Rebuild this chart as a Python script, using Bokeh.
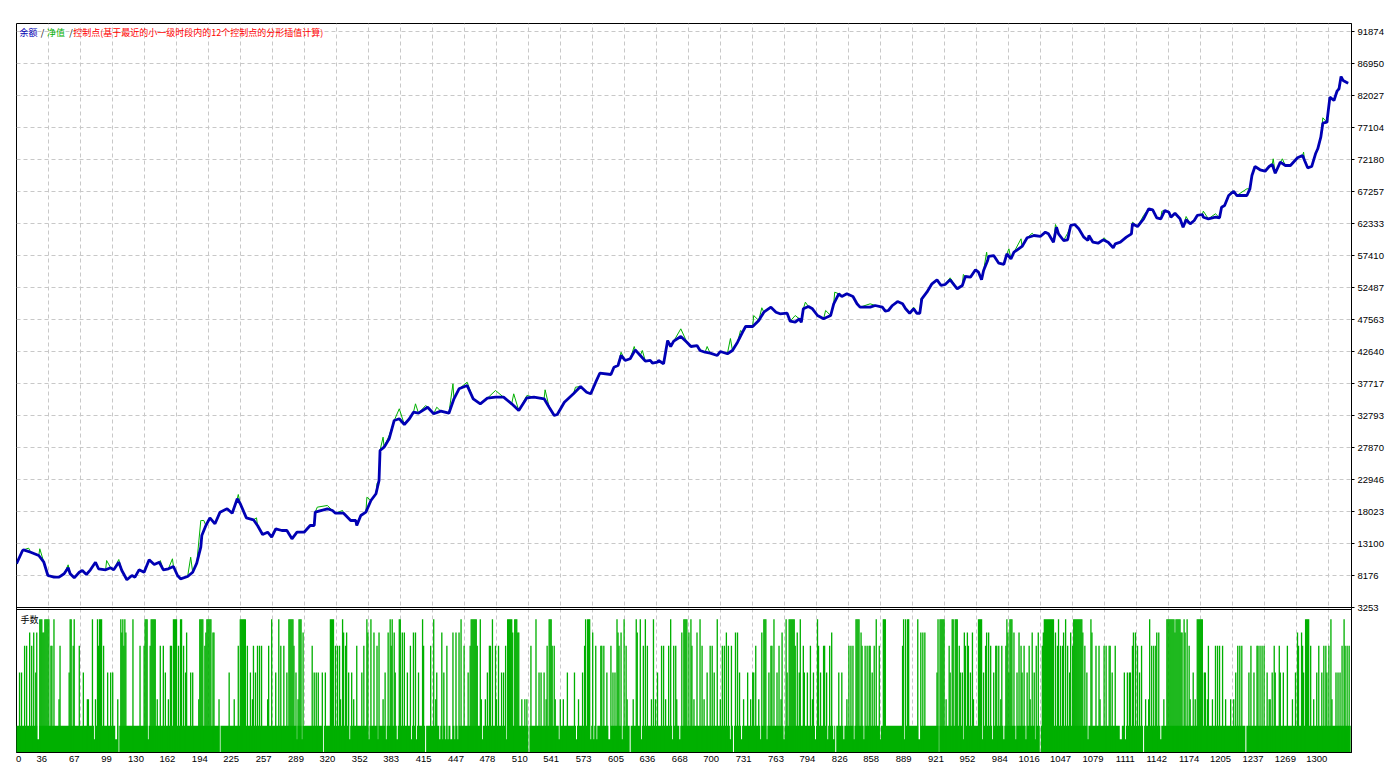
from bokeh.plotting import figure
from bokeh.models import Range1d, FixedTicker, LinearAxis, Label, Grid, Span
from bokeh.embed import file_html
from bokeh.resources import INLINE

# ---------------- data ----------------
# balance curve (trade number, balance)
BAL_N = [0, 6, 7, 14, 22, 27, 31, 37, 42, 47, 51, 53, 57, 62, 65, 69, 73, 78, 81, 88, 93, 96, 101, 104,
         109, 114, 117, 121, 126, 131, 136, 141, 145, 150, 155, 159, 162, 169, 174, 178, 182, 183, 187,
         191, 196, 201, 208, 213, 218, 221, 227, 234, 238, 243, 248, 252, 256, 262, 267, 272, 277, 284,
         290, 294, 295, 307, 312, 315, 323, 330, 335, 336, 340, 345, 350, 355, 358, 359, 363, 368, 373,
         378, 383, 388, 392, 397, 406, 412, 419, 427, 432, 437, 445, 451, 458, 465, 473, 481, 489, 496,
         504, 511, 521, 526, 531, 534, 541, 550, 557, 563, 567, 572, 576, 587, 590, 594, 597, 601, 606,
         611, 616, 621, 626, 628, 633, 634, 639, 643, 646, 649, 656, 662, 666, 672, 675, 680, 685, 692,
         695, 702, 707, 712, 717, 720, 727, 733, 738, 745, 750, 754, 761, 764, 769, 773, 775, 777, 782,
         786, 791, 797, 804, 807, 812, 815, 820, 826, 830, 833, 843, 848, 855, 858, 861, 865, 870, 875,
         878, 882, 886, 889, 892, 894, 899, 904, 909, 913, 917, 922, 929, 934, 937, 942, 947, 950, 953,
         955, 959, 960, 965, 970, 975, 978, 982, 985, 993, 998, 1005, 1011, 1016, 1019, 1024, 1027, 1029,
         1034, 1038, 1041, 1045, 1049, 1054, 1058, 1059, 1063, 1068, 1073, 1078, 1083, 1085, 1090, 1096,
         1101, 1102, 1107, 1113, 1118, 1122, 1126, 1130, 1134, 1138, 1140, 1144, 1149, 1152, 1155, 1159,
         1163, 1166, 1171, 1172, 1177, 1184, 1188, 1190, 1193, 1197, 1202, 1205, 1215, 1218, 1220, 1223,
         1228, 1233, 1237, 1240, 1243, 1248, 1253, 1258, 1265, 1270, 1272, 1275, 1279, 1283, 1285, 1288,
         1290, 1294, 1297, 1301, 1304, 1306, 1308, 1310, 1315]
BAL_V = [10000, 12020, 12130, 11760, 11250, 10220, 8180, 7920, 7920, 8440, 9360, 8440, 7820, 8680, 8950,
         8330, 9050, 10220, 9210, 9050, 9360, 9050, 10220, 8950, 7520, 8180, 7920, 9050, 8680, 10590,
         9870, 10220, 9050, 9210, 9560, 8180, 7670, 8020, 8680, 10070, 12530, 14330, 15870, 17050, 16130,
         17920, 18440, 17760, 19980, 19210, 17050, 16750, 15870, 14490, 14840, 14070, 15360, 15100, 15100,
         13820, 14840, 14840, 15870, 15870, 17920, 18440, 18180, 17760, 17760, 16640, 16640, 15870, 17410,
         17920, 19720, 20750, 22790, 27410, 27920, 29210, 32030, 32290, 31410, 32290, 33300, 33150, 34070,
         33060, 33460, 33150, 35360, 36900, 37410, 35360, 34590, 35460, 35610, 35610, 34590, 33560, 35520,
         35610, 35360, 34070, 32790, 32950, 34840, 36130, 37260, 36380, 36130, 37920, 39300, 39100, 40230,
         40490, 42030, 41260, 41520, 42900, 42030, 41150, 41260, 40840, 41000, 41260, 40750, 44330, 43410,
         44230, 44950, 44070, 43410, 43560, 42800, 42530, 42380, 42030, 42640, 42290, 42800, 44070, 45610,
         46490, 46490, 47410, 48690, 49460, 48690, 48440, 48530, 47300, 47150, 47670, 47150, 49210, 49570,
         49210, 48180, 47670, 48180, 49980, 51520, 51100, 51520, 51100, 49980, 49460, 49460, 49720, 49460,
         48840, 48950, 49720, 50330, 49980, 49210, 48530, 49210, 48530, 48530, 50750, 51770, 53060, 53670,
         52800, 52950, 53670, 52290, 52800, 54180, 54070, 55210, 54840, 53670, 55100, 56640, 57260, 57410,
         56230, 56030, 57670, 56900, 57920, 58800, 60140, 60490, 60340, 61000, 60750, 59460, 61770, 60750,
         59720, 59830, 62030, 62180, 61520, 60230, 59720, 60490, 59460, 59300, 59830, 59460, 58600, 59210,
         59460, 60230, 60750, 62290, 61870, 63060, 64600, 64440, 63210, 63060, 64340, 64070, 63300, 63920,
         63060, 61770, 62900, 62290, 62800, 63570, 63720, 63300, 63060, 63300, 63210, 64840, 65100, 66640,
         67300, 66640, 66640, 67670, 69720, 71100, 70600, 70380, 71100, 71410, 70070, 71770, 71260, 71260,
         72440, 72800, 72030, 70900, 71100, 73150, 73830, 75610, 77770, 77920, 81770, 81260, 82690, 83060,
         84950, 84340, 83920]

# equity readings where the green line leaves the balance line
EQ_N = [12, 23, 51, 89, 101, 142, 154, 172, 182, 183, 185, 219, 237, 297, 307, 322, 346, 356, 362, 368,
        378, 394, 404, 415, 431, 445, 473, 491, 504, 522, 552, 597, 610, 618, 656, 682, 705, 715, 728,
        736, 769, 779, 799, 808, 843, 886, 893, 922, 935, 958, 980, 992, 1003, 1026, 1038, 1074, 1102,
        1113, 1131, 1155, 1172, 1184, 1199, 1215, 1241, 1250, 1271, 1290, 1306]
EQ_V = [12380, 12290, 9820, 10480, 10640, 10480, 10750, 10990, 16640, 16640, 16640, 20640, 17050, 18690,
        18950, 18180, 20220, 22330, 29460, 29720, 33830, 34590, 34330, 34070, 37670, 37920, 36640, 36130,
        35870, 36750, 37150, 42530, 43410, 42800, 46130, 43410, 44640, 45870, 48180, 49370, 48180, 50230,
        48950, 51770, 49980, 49460, 50750, 53980, 54490, 57920, 58440, 59980, 60840, 62180, 60840, 60140,
        62540, 63570, 64230, 63410, 64230, 63830, 67150, 67670, 72290, 72290, 73310, 78600, 83410]

# lots per trade: most trades 0.2 lots; trades at other sizes listed by level
N_TRADES = 1318
LOT_BASE = 0.2
LOTS_1_0 = [23, 24, 25, 28, 29, 30, 31, 32, 37, 53, 54, 57, 75, 80, 82, 83, 84, 103, 105, 107, 115, 127, 128,
            129, 133, 134, 135, 136, 137, 155, 156, 157, 158, 162, 163, 181, 182, 183, 184, 188, 189, 190,
            191, 192, 221, 222, 223, 224, 225, 226, 252, 259, 269, 270, 271, 272, 273, 279, 280, 281, 310,
            311, 312, 313, 322, 346, 350, 369, 371, 378, 379, 401, 412, 439, 449, 450, 451, 452, 453, 454,
            458, 470, 485, 486, 487, 488, 489, 492, 493, 494, 513, 526, 527, 528, 562, 564, 565, 566, 593,
            600, 612, 616, 621, 629, 646, 659, 660, 661, 662, 666, 675, 692, 738, 739, 740, 748, 760, 763,
            764, 765, 766, 767, 768, 774, 791, 829, 830, 831, 832, 849, 856, 857, 858, 876, 878, 880, 881,
            890, 910, 912, 913, 914, 915, 916, 924, 925, 927, 928, 929, 950, 951, 952, 953, 978, 981, 982,
            983, 1015, 1016, 1017, 1018, 1019, 1020, 1021, 1022, 1023, 1024, 1029, 1036, 1044, 1045, 1046,
            1047, 1048, 1049, 1050, 1051, 1052, 1061, 1119, 1136, 1137, 1138, 1139, 1140, 1141, 1142, 1143,
            1145, 1146, 1147, 1148, 1149, 1153, 1156, 1166, 1167, 1168, 1169, 1170, 1171, 1273, 1274, 1275,
            1276, 1298, 1311]
LOTS_0_9 = [13, 17, 20, 26, 27, 104, 108, 168, 187, 194, 195, 283, 323, 326, 347, 353, 358, 367, 373, 381,
            383, 392, 394, 420, 431, 434, 437, 490, 495, 496, 569, 594, 597, 613, 657, 664, 672, 701, 710,
            712, 736, 756, 771, 805, 809, 834, 893, 895, 897, 936, 939, 944, 958, 960, 979, 985, 990, 1003,
            1009, 1014, 1026, 1034, 1041, 1053, 1062, 1103, 1105, 1126, 1128, 1144, 1150, 1151, 1154, 1265,
            1269]
LOTS_0_8 = [8, 10, 15, 34, 35, 43, 56, 62, 81, 86, 106, 122, 126, 132, 142, 145, 152, 153, 160, 165, 186,
            219, 228, 234, 238, 240, 242, 249, 261, 264, 274, 292, 315, 317, 319, 325, 336, 343, 356, 370,
            389, 402, 409, 425, 442, 448, 455, 467, 468, 473, 476, 483, 508, 524, 529, 531, 561, 572, 577,
            578, 580, 587, 595, 602, 619, 623, 637, 639, 644, 649, 651, 667, 677, 685, 687, 697, 699, 703,
            706, 730, 745, 746, 753, 769, 777, 784, 792, 797, 798, 803, 822, 824, 826, 835, 838, 840, 842,
            843, 847, 852, 875, 921, 931, 937, 940, 957, 962, 967, 968, 970, 973, 977, 992, 995, 1000,
            1007, 1013, 1028, 1031, 1033, 1038, 1043, 1055, 1066, 1069, 1074, 1076, 1079, 1080, 1085, 1102,
            1107, 1111, 1121, 1123, 1125, 1158, 1177, 1184, 1186, 1188, 1191, 1206, 1208, 1210, 1219, 1225,
            1226, 1228, 1230, 1232, 1242, 1247, 1255, 1266, 1270, 1278, 1286, 1291, 1293, 1296, 1309, 1312,
            1314, 1316]
LOTS_0_6 = [3, 5, 19, 52, 66, 90, 93, 95, 147, 167, 172, 174, 210, 231, 236, 256, 267, 276, 294, 296, 298,
            302, 305, 328, 331, 341, 364, 374, 386, 397, 415, 422, 446, 465, 479, 481, 516, 518, 521, 544,
            551, 559, 583, 589, 591, 633, 682, 689, 714, 722, 727, 728, 743, 751, 761, 773, 778, 781, 787,
            794, 800, 812, 815, 845, 909, 922, 932, 934, 942, 955, 965, 980, 988, 993, 998, 1005, 1040,
            1057, 1082, 1094, 1097, 1099, 1100, 1109, 1162, 1173, 1174, 1204, 1217, 1222, 1235, 1240, 1243,
            1248, 1251, 1263, 1271, 1284, 1289, 1294, 1303, 1305, 1307]
LOTS_0_4 = [42, 70, 71, 78, 100, 139, 150, 180, 200, 215, 233, 248, 278, 320, 333, 362, 414, 459, 463, 474,
            499, 502, 504, 523, 532, 537, 540, 555, 603, 609, 627, 631, 641, 652, 669, 679, 695, 718, 725,
            733, 755, 786, 820, 918, 945, 972, 1001, 1070, 1115, 1118, 1133, 1159, 1164, 1176, 1181, 1194,
            1199, 1202, 1237, 1238, 1260, 1281, 1299]
LOTS_0_1 = [21, 22, 77, 98, 99, 130, 277, 282, 329, 348, 357, 365, 376, 390, 395, 418, 421, 424, 426, 429,
            430, 433, 436, 460, 484, 536, 553, 567, 570, 573, 585, 586, 598, 617, 648, 655, 705, 716, 735,
            741, 758, 789, 801, 807, 817, 827, 837, 853, 877, 891, 892, 935, 954, 964, 975, 987, 997, 1006,
            1058, 1090, 1091, 1095, 1130]
LOTS_ZERO = [101, 201, 303, 404, 506, 606, 708, 809, 911, 1011, 1113, 1214]

Y_TICK_LABELS = ["3253", "8176", "13100", "18023", "22946", "27870", "32793", "37717", "42640", "47563",
                 "52487", "57410", "62333", "67257", "72180", "77104", "82027", "86950", "91874"]
X_TICK_LABELS = ["0", "36", "67", "99", "130", "162", "194", "225", "257", "289", "320", "352", "383",
                 "415", "447", "478", "510", "541", "573", "605", "636", "668", "700", "731", "763", "794",
                 "826", "858", "889", "921", "952", "984", "1016", "1047", "1079", "1111", "1142", "1174",
                 "1205", "1237", "1269", "1300"]
TRADES_PER_GRID = 31.6

TXT_BAL = "余额"
TXT_EQ = "净值"
TXT_CTRL = "控制点(基于最近的小一级时段内的12个控制点的分形插值计算)"
TXT_LOTS = "手数"

# ---------------- assemble series ----------------
lots = [LOT_BASE] * N_TRADES
for idx_list, val in [(LOTS_0_1, 0.1), (LOTS_0_4, 0.4), (LOTS_0_6, 0.6), (LOTS_0_8, 0.8),
                      (LOTS_0_9, 0.9), (LOTS_1_0, 1.0), (LOTS_ZERO, 0.0)]:
    for i in idx_list:
        if 0 <= i < N_TRADES:
            lots[i] = val

# base of the histogram: one step-shaped outline (one bar per trade, capped at the base lot)
step_x = [-0.5]
step_y = [0.0]
for i, v in enumerate(lots):
    step_x += [i - 0.5, i + 0.5]
    step_y += [min(v, LOT_BASE), min(v, LOT_BASE)]
step_x.append(N_TRADES - 0.5)
step_y.append(0.0)
# trades above the base lot drawn as individual bars
big_x = [i for i, v in enumerate(lots) if v > LOT_BASE]
big_top = [lots[i] for i in big_x]

eq = dict(zip(BAL_N, BAL_V))
eq.update(dict(zip(EQ_N, EQ_V)))
eq_n = sorted(eq)
eq_v = [eq[k] for k in eq_n]

y_ticks = [int(s) for s in Y_TICK_LABELS]
grid_x = [TRADES_PER_GRID * k for k in range(1, len(X_TICK_LABELS))]
trades_per_px = 0.9875
x_lab_pos = []
x_lab_over = {}
for k, s in enumerate(X_TICK_LABELS):
    if k == 0:
        pos = 2
    else:
        pos = int(round(TRADES_PER_GRID * k - (1 + 2.65 * len(s)) * trades_per_px))
    x_lab_pos.append(pos)
    x_lab_over[pos] = s

# ---------------- styling / layout ----------------
BLUE = "#0000b4"
GREEN = "#00b000"
GRID_COL = "#c8c8c8"
FONT = "Liberation Sans"
CJK = "Noto Sans CJK SC"

FRAME_W, FRAME_H = 1335, 729
VAL_PER_PX = 153.86
Y_MAIN_BOTTOM = 3253                        # bottom edge of upper panel
Y_LO = Y_MAIN_BOTTOM - 145 * VAL_PER_PX     # frame bottom (lower panel bottom)
Y_HI = Y_MAIN_BOTTOM + 584 * VAL_PER_PX
LOT_PER_PX = 0.0075
LOT_TOP = FRAME_H * LOT_PER_PX
LOT_PANEL_TOP = 143 * LOT_PER_PX

p = figure(frame_width=FRAME_W, frame_height=FRAME_H,
           x_range=Range1d(0, FRAME_W * trades_per_px), y_range=Range1d(Y_LO, Y_HI),
           x_axis_location=None, y_axis_location=None, toolbar_location=None,
           output_backend="svg", min_border_left=16, min_border_right=42,
           min_border_top=23, min_border_bottom=4, outline_line_color="black",
           outline_line_width=1, background_fill_color="white", border_fill_color="white")
p.extra_y_ranges = {"lots": Range1d(0, LOT_TOP)}
p.grid.grid_line_color = None
p.add_layout(Grid(dimension=0, ticker=FixedTicker(ticks=grid_x), grid_line_color=GRID_COL,
                  grid_line_dash="4 3"))
p.add_layout(Grid(dimension=1, ticker=FixedTicker(ticks=y_ticks[1:]), grid_line_color=GRID_COL,
                  grid_line_dash="4 3"))

# lower panel: lots
p.patch(step_x, step_y, fill_color=GREEN, line_color=None, y_range_name="lots")
p.vbar(x=big_x, top=big_top, bottom=0, width=1.3, fill_color=GREEN, line_color=None,
       y_range_name="lots")

# borders between the two panels
p.add_layout(Span(location=Y_MAIN_BOTTOM, dimension="width", line_color="black", line_width=1))
p.add_layout(Span(location=LOT_PANEL_TOP, dimension="width", line_color="black", line_width=1,
                  y_range_name="lots"))

# upper panel: equity and balance
p.line(eq_n, eq_v, line_color=GREEN, line_width=1)
p.line(BAL_N, BAL_V, line_color=BLUE, line_width=2.8)

yax = LinearAxis(ticker=FixedTicker(ticks=y_ticks),
                 major_label_overrides={v: s for v, s in zip(y_ticks, Y_TICK_LABELS)},
                 major_tick_out=3, major_tick_in=0, minor_tick_line_color=None,
                 axis_line_color="black", major_tick_line_color="black",
                 major_label_standoff=3, major_label_text_font=FONT,
                 major_label_text_font_size="9.5px", major_label_text_color="black")
p.add_layout(yax, "right")

xax = LinearAxis(ticker=FixedTicker(ticks=x_lab_pos), major_label_overrides=x_lab_over,
                 major_tick_out=0, major_tick_in=0, major_tick_line_color=None,
                 minor_tick_line_color=None, axis_line_color="black",
                 major_label_standoff=3, major_label_text_font=FONT,
                 major_label_text_font_size="9.5px", major_label_text_color="black")
p.add_layout(xax, "below")

ly = Y_HI - 9 * VAL_PER_PX
for x, txt, col in [(3, TXT_BAL, BLUE), (24, "/", "black"), (30, TXT_EQ, GREEN),
                    (52, "/", "black"), (56, TXT_CTRL, "#ff0000")]:
    p.add_layout(Label(x=x, y=ly, text=txt, text_color=col, text_font=CJK,
                       text_font_size="9px", text_baseline="middle", text_align="left"))

p.add_layout(Label(x=4, y=LOT_PANEL_TOP - 9.5 * LOT_PER_PX, y_range_name="lots", text=TXT_LOTS,
                   text_color="black", text_font=CJK, text_font_size="9px",
                   text_baseline="middle", text_align="left"))

open("out.html", "w").write(file_html(p, INLINE, title="Strategy Tester Graph"))
